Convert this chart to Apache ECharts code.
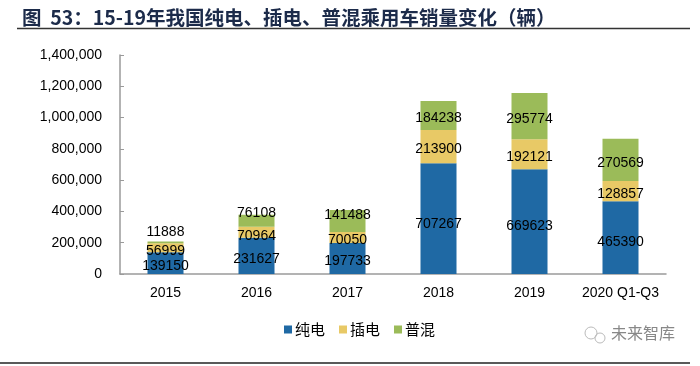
<!DOCTYPE html>
<html>
<head>
<meta charset="utf-8">
<script src="https://cdn.jsdelivr.net/npm/echarts@6/dist/echarts.min.js"></script>
<style>
html,body{margin:0;padding:0;background:#fff;}
#c{width:700px;height:366px;}
</style>
</head>
<body>
<div id="c"></div>
<script>
const titleText = "图  53：15-19年我国纯电、插电、普混乘用车销量变化（辆）";
const categories = ["2015", "2016", "2017", "2018", "2019", "2020 Q1-Q3"];
const seriesNames = ["纯电", "插电", "普混"];
const bev = [139150, 231627, 197733, 707267, 669623, 465390];
const phev = [56999, 70964, 70050, 213900, 192121, 128857];
const hev = [11888, 76108, 141488, 184238, 295774, 270569];
const yTicks = [0, 200000, 400000, 600000, 800000, 1000000, 1200000, 1400000];
const watermark = "未来智库";

const colors = ["#1f69a4", "#e8c966", "#9bbb59"];
const labelFont = {color: "#000", fontSize: 14, fontFamily: "Liberation Sans, Arial, sans-serif", textBorderWidth: 0};

// per-point label tweaks (visual only)
function buildData(vals, tweaks) {
  return vals.map((v, i) => {
    const t = tweaks[i];
    if (!t) return v;
    return {value: v, label: t};
  });
}
const bevData = buildData(bev, {0: {offset: [0, 3]}, 3: {offset: [0, 5]}, 4: {offset: [0, 5]}, 5: {offset: [0, 5]}});
const phevData = buildData(phev, {1: {offset: [0, 4]}});
const hevData = buildData(hev, {0: {position: "top", distance: 5}, 1: {offset: [0, -8]}, 2: {offset: [0, -6]}});

const chart = echarts.init(document.getElementById("c"), null, {renderer: "canvas"});
const mkSeries = (name, data, color) => ({
  name: name,
  type: "bar",
  stack: "total",
  barWidth: 36,
  data: data,
  itemStyle: {color: color},
  label: Object.assign({show: true, position: "inside", offset: [0, 3]}, labelFont),
  emphasis: {disabled: true}
});
chart.setOption({
  animation: false,
  backgroundColor: "#fff",
  title: {
    text: titleText,
    left: 17, top: 3,
    textStyle: {fontSize: 19.5, fontWeight: "bold", color: "#1c2b4a", fontFamily: "Noto Sans CJK SC, sans-serif"}
  },
  legend: {
    data: seriesNames,
    left: 279, top: 317,
    itemWidth: 8, itemHeight: 8, itemGap: 14,
    icon: "rect",
    textStyle: {fontSize: 15, color: "#000", fontFamily: "Noto Sans CJK SC, sans-serif", padding: [0, 0, 0, -2]}
  },
  grid: {left: 120, right: 34, top: 55, bottom: 92},
  xAxis: {
    type: "category",
    data: categories,
    axisLine: {lineStyle: {color: "#9a9a9a", width: 1.5}},
    axisTick: {inside: true, length: 4, lineStyle: {color: "#9a9a9a"}},
    axisLabel: {interval: 0, color: "#000", fontSize: 14, margin: 12, fontFamily: "Liberation Sans, Arial, sans-serif"}
  },
  yAxis: {
    type: "value",
    min: yTicks[0], max: yTicks[yTicks.length - 1], interval: yTicks[1] - yTicks[0],
    splitLine: {show: false},
    axisLine: {show: true, lineStyle: {color: "#9a9a9a", width: 1.5}},
    axisTick: {show: true, inside: true, length: 4, lineStyle: {color: "#9a9a9a"}},
    axisLabel: {
      color: "#000", fontSize: 14, margin: 18, fontFamily: "Liberation Sans, Arial, sans-serif",
      formatter: v => v.toLocaleString("en-US")
    }
  },
  series: [
    mkSeries(seriesNames[0], bevData, colors[0]),
    mkSeries(seriesNames[1], phevData, colors[1]),
    mkSeries(seriesNames[2], hevData, colors[2])
  ],
  graphic: [
    {type: "line", shape: {x1: 17, y1: 28.5, x2: 690, y2: 28.5}, style: {stroke: "#333", lineWidth: 1.5}},
    {type: "line", shape: {x1: 0, y1: 363, x2: 690, y2: 363}, style: {stroke: "#222", lineWidth: 1.5}},
    {type: "circle", shape: {cx: 591, cy: 333, r: 6}, style: {fill: "none", stroke: "#bbb", lineWidth: 1}},
    {type: "circle", shape: {cx: 600, cy: 338, r: 5}, style: {fill: "none", stroke: "#bbb", lineWidth: 1}},
    {type: "text", left: 611, top: 325, style: {text: watermark, fontSize: 16, fill: "#888", fontFamily: "Noto Sans CJK SC, sans-serif"}}
  ]
});
</script>
</body>
</html>
